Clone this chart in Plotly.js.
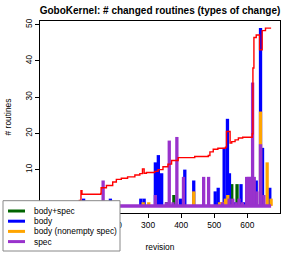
<!DOCTYPE html>
<html>
<head>
<meta charset="utf-8">
<script src="https://cdn.plot.ly/plotly-3.0.1.min.js"></script>
<style>
html,body{margin:0;padding:0;background:#fff;}
#chart{width:294px;height:254px;}
</style>
</head>
<body>
<div id="chart"></div>
<script>
// ---- data ----
const seriesNames = ["body+spec", "body", "body (nonempty spec)", "spec"];
const seriesColors = ["#006400", "#0000FF", "#FFA500", "#9932CC"];

const revisionRange = [0, 672];

const bodySpecRev = [356, 378, 553, 569];
const bodySpecVal = [1, 3, 6, 6];

const bodyRev = [105, 186, 278, 288, 322, 331, 341, 398, 411, 438, 503, 512, 530, 540, 546, 560, 581, 592, 627, 640, 646, 668];
const bodyVal = [2, 2, 2, 2, 12, 14, 9, 2, 10, 7, 4, 5, 16, 24, 9, 1, 6, 1, 7, 49, 16, 5];

const bodyNonemptyRev = [285, 302, 438, 516, 522, 528, 534, 541, 640, 660, 672];
const bodyNonemptyVal = [1, 1, 4, 1, 1, 1, 2, 3, 26, 12, 2];

const specRev = [164, 322, 355, 364, 375, 387, 407, 468, 483, 525, 545, 556, 566, 575, 585, 598, 603, 608, 613, 616, 621, 629, 640, 650];
const specVal = [7, 3, 1, 18, 1, 19, 8, 8, 8, 1, 2, 2, 1, 2, 1, 8, 8, 8, 8, 34, 8, 4, 17, 3];

const lineRev = [90, 97, 100, 157, 158, 174, 193, 204, 219, 238, 260, 275, 283, 288, 295, 320, 330, 345, 360, 371, 391, 441, 482, 487, 497, 511, 534, 537, 544, 548, 553, 563, 573, 586, 613, 615, 617, 620, 627, 633, 637, 645, 655, 672];
const lineVal = [1.5, 4.2, 3.2, 3.4, 5.0, 5.6, 6.6, 7.3, 7.6, 8.0, 8.5, 8.9, 10.2, 9.0, 9.2, 9.5, 10.0, 10.8, 11.5, 12.5, 13.3, 13.6, 13.9, 14.9, 15.6, 15.9, 16.2, 20.5, 20.5, 17.3, 17.7, 18.2, 18.7, 18.9, 18.9, 19.9, 38, 46.4, 47.1, 47.1, 43, 48.3, 49, 49];

const xTicks = [0, 100, 200, 300, 400, 500, 600];
// labels of 0 and 100 sit entirely under the legend box in the reference
const xTickText = ["", "", "200", "300", "400", "500", "600"];
const yTicks = [0, 10, 20, 30, 40, 50];
const yTickText = ["", "10", "20", "30", "40", "50"];

// ---- layout helpers ----
const W = 294, H = 254;
const M = {l: 40, r: 14, t: 21, b: 41};
const PW = W - M.l - M.r, PH = H - M.t - M.b;
const px2x = p => (p - M.l) / PW;
const py2y = p => (H - M.b - p) / PH;

const barW = 10;
function barTrace(rev, val, i) {
  return {type: 'bar', x: rev, y: val, width: barW, name: seriesNames[i],
    marker: {color: seriesColors[i], line: {width: 0}}, showlegend: false, hoverinfo: 'skip'};
}

const yMax = Math.max(...bodyVal, ...bodyNonemptyVal, ...specVal, ...bodySpecVal, ...lineVal);
const xSpan = revisionRange[1] - revisionRange[0];

const traces = [
  barTrace(bodySpecRev, bodySpecVal, 0),
  barTrace(bodyRev, bodyVal, 1),
  barTrace(bodyNonemptyRev, bodyNonemptyVal, 2),
  {type: 'scatter', mode: 'lines', x: revisionRange, y: [0, 0], line: {color: seriesColors[3], width: 3.5}, showlegend: false, hoverinfo: 'skip'},
  barTrace(specRev, specVal, 3),
  {type: 'scatter', mode: 'lines', x: lineRev, y: lineVal, line: {color: '#FF0000', width: 1.4, shape: 'hv'}, showlegend: false, hoverinfo: 'skip'}
];

const font = 'Liberation Sans, Arial, Helvetica, sans-serif';

// legend drawn as shapes + annotations
const legTop = 200.7, legBottom = 251, legLeft = 3, legRight = 120;
const shapes = [{type: 'rect', xref: 'paper', yref: 'paper', layer: 'above',
  x0: px2x(legLeft), x1: px2x(legRight), y0: py2y(legBottom), y1: py2y(legTop),
  fillcolor: '#FFFFFF', line: {color: '#888888', width: 1}}];
const annotations = [];
seriesNames.forEach((n, i) => {
  const yc = 211 + i * 10.2;
  shapes.push({type: 'line', xref: 'paper', yref: 'paper', layer: 'above',
    x0: px2x(8), x1: px2x(25), y0: py2y(yc), y1: py2y(yc),
    line: {color: seriesColors[i], width: 3}});
  annotations.push({xref: 'paper', yref: 'paper', x: px2x(32), y: py2y(yc),
    xanchor: 'left', yanchor: 'middle', text: n, showarrow: false,
    font: {family: font, size: 8.4, color: '#000'}});
});

const layout = {
  width: W, height: H,
  margin: M,
  paper_bgcolor: '#fff', plot_bgcolor: '#fff',
  barmode: 'overlay',
  showlegend: false,
  font: {family: font, size: 8.4, color: '#000'},
  title: {text: '<b>GoboKernel: # changed routines (types of change)</b>',
    font: {family: font, size: 10, color: '#000'},
    xref: 'paper', x: 0.5, xanchor: 'center', yref: 'container', y: 1 - 10 / H, yanchor: 'middle'},
  xaxis: {range: [revisionRange[0] - 0.04 * xSpan, revisionRange[1] + 0.04 * xSpan],
    tickvals: xTicks, ticktext: xTickText, ticks: 'outside', ticklen: 4, tickcolor: '#000',
    showline: true, linecolor: '#000', linewidth: 1, mirror: true, showgrid: false, zeroline: false,
    tickfont: {family: font, size: 8.4}, title: {text: 'revision', font: {family: font, size: 8.4}, standoff: 15}},
  yaxis: {range: [-0.04 * yMax, yMax * 1.04],
    tickvals: yTicks, ticktext: yTickText, ticks: 'outside', ticklen: 4, tickcolor: '#000', tickangle: -90,
    showline: true, linecolor: '#000', linewidth: 1, mirror: true, showgrid: false, zeroline: false,
    tickfont: {family: font, size: 8.4}, title: {text: '# routines', font: {family: font, size: 8.4}, standoff: 10}},
  shapes: shapes,
  annotations: annotations
};

Plotly.newPlot('chart', traces, layout, {staticPlot: true, displayModeBar: false});
</script>
</body>
</html>
